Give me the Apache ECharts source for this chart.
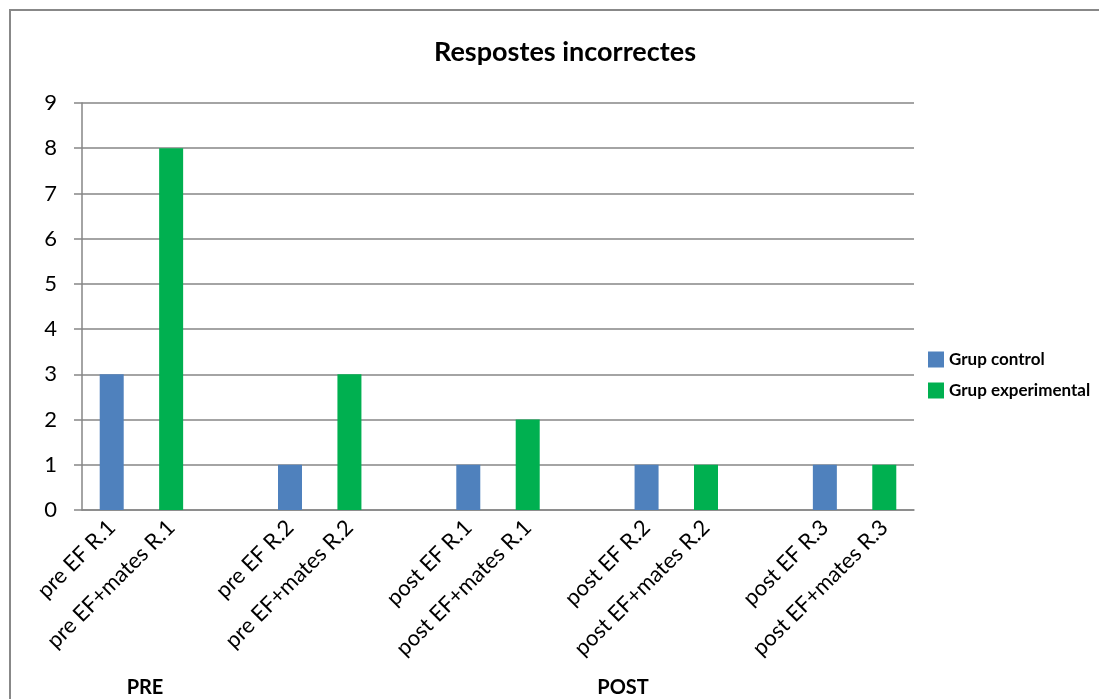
<!DOCTYPE html>
<html><head><meta charset="utf-8">
<script src="https://cdn.jsdelivr.net/npm/echarts@6/dist/echarts.min.js"></script>
<style>html,body{margin:0;padding:0;background:#fff}#c{width:1099px;height:699px}</style>
</head><body><div id="c"></div>
<script>
var categories = ['pre EF R.1','pre EF+mates R.1','','pre EF R.2','pre EF+mates R.2','','post EF R.1','post EF+mates R.1','','post EF R.2','post EF+mates R.2','','post EF R.3','post EF+mates R.3'];
var grupControl = [3,null,null,1,null,null,1,null,null,1,null,null,1,null];
var grupExperimental = [null,8,null,null,3,null,null,2,null,null,1,null,null,1];
var seriesNames = ['Grup control','Grup experimental'];
var groupLabels = ['PRE','POST'];
var titleText = 'Respostes incorrectes';
var FONT = 'Lato';
var chart = echarts.init(document.getElementById('c'));
chart.setOption({
  animation:false,
  backgroundColor:'#fff',
  title:{text:titleText,left:560,textAlign:'center',top:34,textStyle:{fontFamily:FONT,fontSize:27,fontWeight:'bold',color:'#000'}},
  legend:{orient:'vertical',left:923,top:346,itemWidth:16,itemHeight:16,itemGap:14,icon:'rect',
    textStyle:{fontFamily:FONT,fontSize:17,fontWeight:'bold',color:'#000',padding:[3,0,0,0]},data:seriesNames},
  grid:{left:82,right:185,top:103,bottom:189,containLabel:false},
  xAxis:{type:'category',data:categories,
    axisLine:{lineStyle:{color:'#868686',width:1.5}},axisTick:{show:false},
    axisLabel:{interval:0,rotate:45,margin:14,fontFamily:FONT,fontSize:22,color:'#000'}},
  yAxis:{type:'value',min:0,max:9,interval:1,
    axisLine:{show:true,lineStyle:{color:'#868686',width:1.5}},
    axisTick:{show:true,length:8,lineStyle:{color:'#868686',width:1.5}},
    splitLine:{lineStyle:{color:'#868686',width:1.5}},
    axisLabel:{margin:25,fontFamily:FONT,fontSize:22,color:'#000'}},
  series:[
    {name:seriesNames[0],type:'bar',data:grupControl,barWidth:24,barGap:'-100%',itemStyle:{color:'#4F81BD'}},
    {name:seriesNames[1],type:'bar',data:grupExperimental,barWidth:24,barGap:'-100%',itemStyle:{color:'#00B050'}}
  ],
  graphic:[
    {type:'rect',shape:{x:10,y:10,width:1200,height:800},style:{fill:null,stroke:'#888',lineWidth:2},silent:true},
    {type:'text',x:145,y:688,style:{text:groupLabels[0],font:'bold 20px '+FONT,fill:'#000',textAlign:'center',textVerticalAlign:'middle'}},
    {type:'text',x:623,y:688,style:{text:groupLabels[1],font:'bold 20px '+FONT,fill:'#000',textAlign:'center',textVerticalAlign:'middle'}}
  ]
});
</script></body></html>
